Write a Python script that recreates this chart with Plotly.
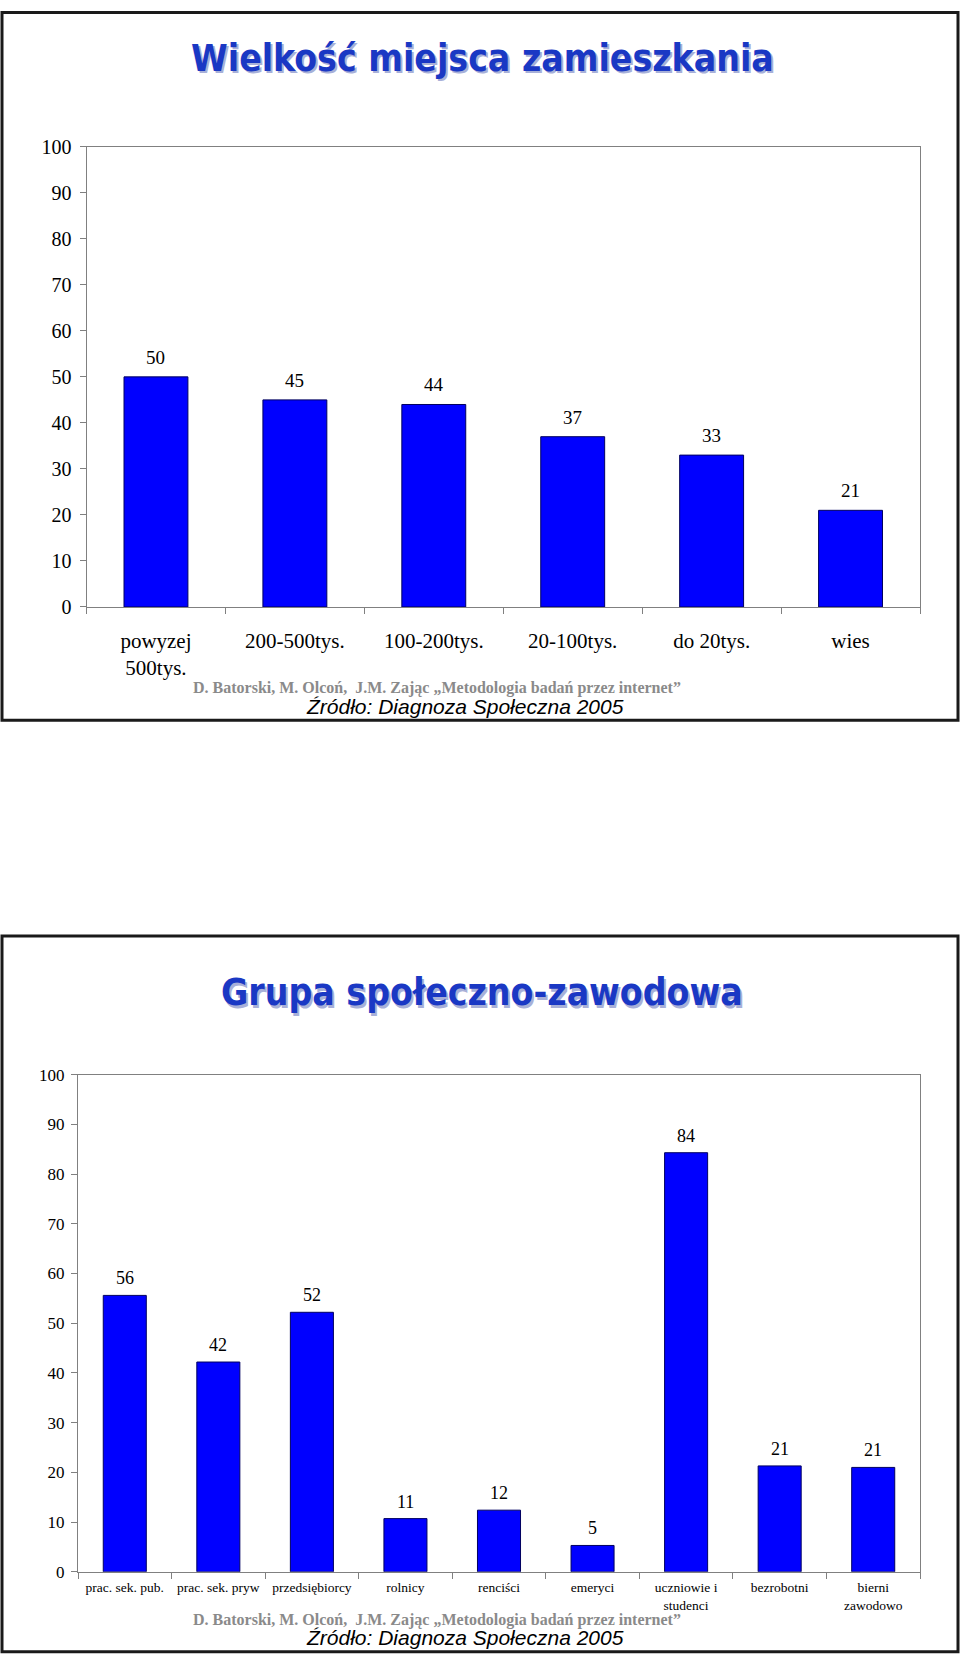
import plotly.graph_objects as go

W, H = 960, 1654

# ---- data ----
cat1 = ["powyzej<br>500tys.", "200-500tys.", "100-200tys.", "20-100tys.", "do 20tys.", "wies"]
val1 = [50, 45, 44, 37, 33, 21]

cat2 = ["prac. sek. pub.", "prac. sek. pryw", "przedsiębiorcy", "rolnicy", "renciści",
        "emeryci", "uczniowie i<br>studenci", "bezrobotni", "bierni<br>zawodowo"]
val2 = [55.6, 42.2, 52.2, 10.7, 12.4, 5.3, 84.3, 21.3, 21.0]
lab2 = [56, 42, 52, 11, 12, 5, 84, 21, 21]

title1 = "Wielkość miejsca zamieszkania"
title2 = "Grupa społeczno-zawodowa"
credit = "D. Batorski, M. Olcoń,  J.M. Zając „Metodologia badań przez internet”"
source = "Źródło: Diagnoza Społeczna 2005"

# vertical correction measured from the rendered page (page is offset/compressed slightly)
V_SCALE, V_OFF = 0.9884, 8.5

def px_x(p):
    return p / W

def px_y(p):
    q = (p - V_OFF) / V_SCALE
    q = max(q, 1.5)
    return 1 - q / H

SERIF = "Liberation Serif"
BLUE = "#0000FF"
TITLE_BLUE = "#1a38c4"
TITLE_FONT = "DejaVu Sans Condensed"

fig = go.Figure()
fig.add_trace(go.Bar(x=cat1, y=val1, marker=dict(color=BLUE, line=dict(color="#000060", width=1)),
                     xaxis="x", yaxis="y", showlegend=False, hoverinfo="skip"))
fig.add_trace(go.Bar(x=cat2, y=val2, marker=dict(color=BLUE, line=dict(color="#000060", width=1)),
                     xaxis="x2", yaxis="y2", showlegend=False, hoverinfo="skip"))

annotations = []
for c, v in zip(cat1, val1):
    annotations.append(dict(x=c, y=v, xref="x", yref="y", text=str(v), showarrow=False,
                            yanchor="bottom", yshift=7, font=dict(family=SERIF, size=19, color="black")))
for c, v, l in zip(cat2, val2, lab2):
    annotations.append(dict(x=c, y=v, xref="x2", yref="y2", text=str(l), showarrow=False,
                            yanchor="bottom", yshift=5, font=dict(family=SERIF, size=18, color="black")))

def add_title(text, ycen):
    annotations.append(dict(x=px_x(484), y=px_y(ycen + 2.5), xref="paper", yref="paper", text="<b>" + text + "</b>",
                            showarrow=False, xanchor="center", yanchor="middle",
                            font=dict(family=TITLE_FONT, size=37, color="#a8b0d8")))
    annotations.append(dict(x=px_x(482), y=px_y(ycen), xref="paper", yref="paper", text="<b>" + text + "</b>",
                            showarrow=False, xanchor="center", yanchor="middle",
                            font=dict(family=TITLE_FONT, size=37, color=TITLE_BLUE)))

add_title(title1, 56)
add_title(title2, 992)

def add_footer(y_credit, y_source):
    annotations.append(dict(x=px_x(437), y=px_y(y_credit), xref="paper", yref="paper", text="<b>" + credit + "</b>",
                            showarrow=False, xanchor="center", yanchor="middle",
                            font=dict(family=SERIF, size=16, color="#8a8a8a")))
    annotations.append(dict(x=px_x(465), y=px_y(y_source), xref="paper", yref="paper", text="<i>" + source + "</i>",
                            showarrow=False, xanchor="center", yanchor="middle",
                            font=dict(family="Liberation Sans", size=21, color="black")))

add_footer(687, 705)
add_footer(1620, 1638)

shapes = []
for (y0, y1) in [(2, 719), (935, 1652)]:
    shapes.append(dict(type="rect", xref="paper", yref="paper", x0=px_x(2), x1=px_x(958),
                       y0=px_y(y1), y1=px_y(y0), line=dict(color="#1a1a1a", width=3)))

axis_common = dict(showline=True, linecolor="#808080", linewidth=1, mirror=True, showgrid=False,
                   zeroline=False, ticks="outside", tickcolor="#808080", ticklen=6, fixedrange=True)

fig.update_layout(
    width=W, height=H, margin=dict(l=0, r=0, t=0, b=0), autosize=False,
    paper_bgcolor="white", plot_bgcolor="white", bargap=0.54,
    xaxis=dict(domain=[px_x(86.5), px_x(920)], anchor="y", tickson="boundaries", ticklabelstandoff=15,
               tickfont=dict(family=SERIF, size=21, color="black"), tickangle=0, **axis_common),
    yaxis=dict(domain=[px_y(605.5), px_y(144.5)], anchor="x", range=[0, 100], dtick=10, ticklabelstandoff=4,
               tickfont=dict(family=SERIF, size=20, color="black"), **axis_common),
    xaxis2=dict(domain=[px_x(78), px_x(920)], anchor="y2", tickson="boundaries", ticklabelstandoff=3,
                tickfont=dict(family=SERIF, size=13.5, color="black"), tickangle=0, **axis_common),
    yaxis2=dict(domain=[px_y(1572), px_y(1074)], anchor="x2", range=[0, 100], dtick=10, ticklabelstandoff=3,
                tickfont=dict(family=SERIF, size=17, color="black"), **axis_common),
    annotations=annotations, shapes=shapes,
)

fig.write_html("out.html")
